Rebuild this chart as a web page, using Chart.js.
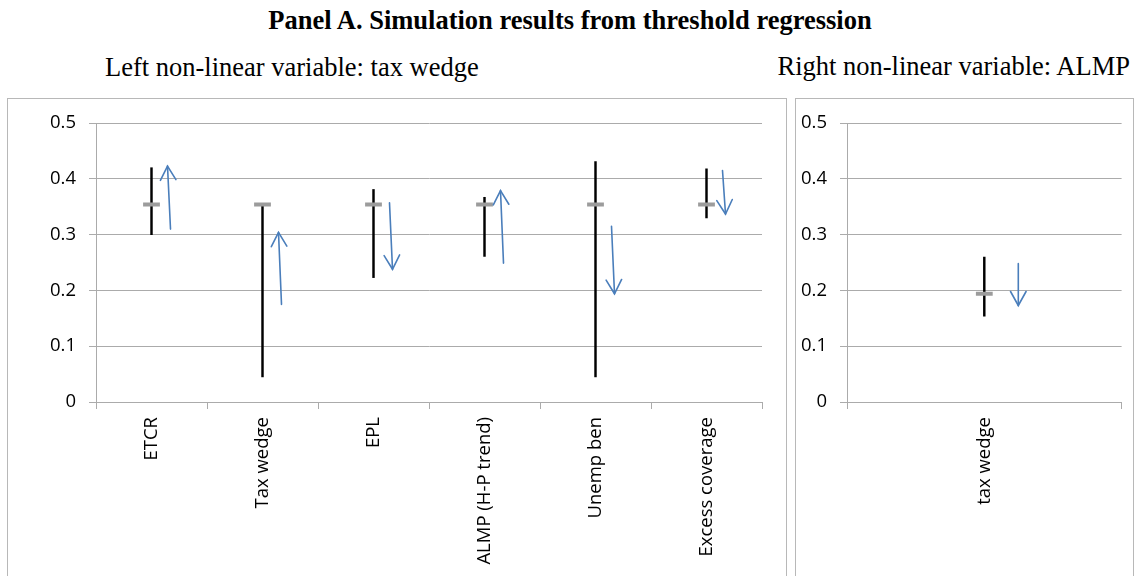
<!DOCTYPE html>
<html>
<head>
<meta charset="utf-8">
<script src="https://cdn.jsdelivr.net/npm/chart.js@4/dist/chart.umd.min.js"></script>
<style>
  html, body { margin: 0; padding: 0; background: #fff; }
  body { width: 1137px; height: 576px; position: relative; overflow: hidden; font-family: "Liberation Serif", "Times New Roman", serif; color: #000; }
  .txt { position: absolute; line-height: 1; white-space: nowrap; }
  #title { left: 0; width: 1140px; text-align: center; top: 7px; font-size: 26.5px; font-weight: bold; }
  #subL { left: 105px; top: 53.5px; font-size: 26.5px; }
  #subR { right: 7px; top: 53px; font-size: 26.5px; }
  .box { position: absolute; border: 1px solid #b8b8b8; top: 98px; height: 520px; }
  #boxL { left: 7px; width: 778px; }
  #boxR { left: 795px; width: 337px; }
  canvas { position: absolute; }
  #c1 { left: 8px; top: 99px; }
  #c2 { left: 796px; top: 99px; }
</style>
</head>
<body>
<div id="title" class="txt">Panel A. Simulation results from threshold regression</div>
<div id="subL" class="txt">Left non-linear variable: tax wedge</div>
<div id="subR" class="txt">Right non-linear variable: ALMP</div>
<div id="boxL" class="box"></div>
<div id="boxR" class="box"></div>
<canvas id="c1" width="778" height="477"></canvas>
<canvas id="c2" width="338" height="477"></canvas>
<script>
// ---------- data ----------
const leftCategories  = ['ETCR', 'Tax wedge', 'EPL', 'ALMP (H-P trend)', 'Unemp ben', 'Excess coverage'];
const leftLow         = [0.300, 0.045, 0.223, 0.261, 0.045, 0.330];
const leftHigh        = [0.420, 0.354, 0.381, 0.367, 0.431, 0.418];
const leftMid         = [0.354, 0.354, 0.354, 0.354, 0.354, 0.354];
const leftArrowFrom   = [0.310, 0.175, 0.357, 0.249, 0.315, 0.415];
const leftArrowTo     = [0.423, 0.304, 0.238, 0.379, 0.194, 0.337];

const rightCategories = ['tax wedge'];
const rightLow        = [0.154];
const rightHigh       = [0.260];
const rightMid        = [0.194];
const rightArrowFrom  = [0.248];
const rightArrowTo    = [0.173];

const yTickLabels     = ['0', '0.1', '0.2', '0.3', '0.4', '0.5'];

// ---------- styles ----------
const GRID = '#ababab';
const TICK_FONT = { family: '"Open Sans", "Liberation Sans", sans-serif', size: 18.5 };
const ARROW_COLOR = '#4a7ebb';

const arrowPlugin = {
  id: 'arrows',
  afterDatasetsDraw(chart, args, opts) {
    const { ctx } = chart;
    const xs = chart.scales.x, ys = chart.scales.y;
    ctx.save();
    ctx.strokeStyle = ARROW_COLOR;
    ctx.lineWidth = 1.6;
    ctx.lineCap = 'round';
    opts.from.forEach((f, i) => {
      const t = opts.to[i];
      const cx = xs.getPixelForValue(i) + opts.dx;
      const y0 = ys.getPixelForValue(f);
      const y1 = ys.getPixelForValue(t);
      // lower end sits slightly to the right (slanted shaft)
      const x0 = cx + (f < t ? opts.slant : 0);
      const x1 = cx + (t < f ? opts.slant : 0);
      ctx.beginPath();
      ctx.moveTo(x0, y0);
      ctx.lineTo(x1, y1);
      ctx.stroke();
      const ang = Math.atan2(y1 - y0, x1 - x0);
      const hl = 16, ha = Math.PI / 6.2;
      ctx.beginPath();
      ctx.moveTo(x1 - hl * Math.cos(ang - ha), y1 - hl * Math.sin(ang - ha));
      ctx.lineTo(x1, y1);
      ctx.lineTo(x1 - hl * Math.cos(ang + ha), y1 - hl * Math.sin(ang + ha));
      ctx.stroke();
    });
    ctx.restore();
  }
};

function makeChart(id, cats, low, high, mid, aFrom, aTo, yWidth, padRight, dx, slant) {
  return new Chart(document.getElementById(id), {
    type: 'bar',
    data: {
      labels: cats,
      datasets: [
        {
          type: 'line',
          data: mid,
          showLine: false,
          pointStyle: 'line',
          pointRadius: 8.4,
          pointBorderWidth: 4,
          pointBorderColor: '#9c9c9c',
          pointBackgroundColor: '#9c9c9c',
          order: 1
        },
        {
          type: 'bar',
          data: low.map((l, i) => [l, high[i]]),
          backgroundColor: '#000',
          barThickness: 1.8,
          order: 2
        }
      ]
    },
    options: {
      responsive: false,
      animation: false,
      events: [],
      layout: { padding: { top: 24, right: padRight, left: 0, bottom: 0 } },
      plugins: {
        legend: { display: false },
        tooltip: { enabled: false },
        arrows: { from: aFrom, to: aTo, dx: dx, slant: slant }
      },
      scales: {
        x: {
          type: 'category',
          offset: true,
          grid: { display: true, drawOnChartArea: false, drawTicks: true, tickLength: 7, offset: true, color: GRID, lineWidth: 1 },
          border: { display: true, color: GRID, width: 1 },
          ticks: { autoSkip: false, maxRotation: 90, minRotation: 90, padding: 8, color: '#000', font: TICK_FONT },
          afterFit(scale) { scale.height = 174; }
        },
        y: {
          min: 0, max: 0.5,
          ticks: {
            stepSize: 0.1, padding: 13, color: '#000', font: TICK_FONT,
            callback: (v, i) => yTickLabels[i]
          },
          grid: { color: GRID, lineWidth: 1, tickLength: 7, drawTicks: true },
          border: { display: true, color: GRID, width: 1 },
          afterFit(scale) { scale.width = yWidth; }
        }
      }
    },
    plugins: [arrowPlugin]
  });
}

makeChart('c1', leftCategories, leftLow, leftHigh, leftMid, leftArrowFrom, leftArrowTo, 88, 24, 16, 3);
makeChart('c2', rightCategories, rightLow, rightHigh, rightMid, rightArrowFrom, rightArrowTo, 51, 1, 34, 0);
</script>
</body>
</html>
